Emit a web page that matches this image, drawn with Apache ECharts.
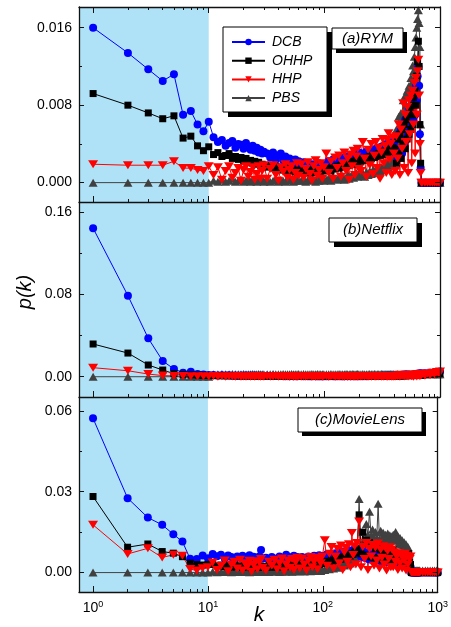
<!DOCTYPE html>
<html>
<head>
<meta charset="utf-8">
<script src="https://cdn.jsdelivr.net/npm/echarts@6/dist/echarts.min.js"></script>
<style>
  html, body { margin: 0; padding: 0; background: #fff; }
  #chart { width: 451px; height: 627px; }
</style>
</head>
<body>
<div id="chart"></div>
<script>
// degree k, shared by the three panels
var K = [1, 2, 3, 4, 5, 6, 7, 8, 9, 10,
  11, 12, 13, 14, 15, 16, 17, 18, 19, 20, 21, 22, 23, 24, 25, 26, 27, 28, 29, 30,
  32, 34, 36, 38, 40, 42, 44, 46, 48, 50, 52, 54, 56, 58, 60,
  63, 66, 69, 72, 75, 78, 81, 84, 87, 90, 93, 96, 99,
  104, 109, 114, 119, 124, 129, 134, 139, 144, 149, 154, 159, 164, 169, 174, 179, 184, 189, 194, 199,
  207, 215, 223, 231, 239, 247, 255, 263, 271, 279, 287, 295, 303, 311, 319, 327, 335, 343, 351, 359, 367, 375, 383, 391, 399,
  410, 420, 430, 440, 450, 460, 470, 480, 490, 500, 510, 520, 530, 540, 550, 560, 570, 580, 590, 600,
  610, 620, 630, 640, 650, 660, 670, 680, 690, 700,
  740, 780, 820, 860, 900, 940, 980, 1000];

// (a) RYM
var dcbA = [0.0160, 0.0134, 0.0117, 0.0105, 0.0112, 0.0070, 0.0074, 0.0060, 0.0053, 0.0063,
  0.0047, 0.0042, 0.0044, 0.0038, 0.0041, 0.0043, 0.0036, 0.0040, 0.0039, 0.0035, 0.0041, 0.0037, 0.0034, 0.0038, 0.0033, 0.0036, 0.0031, 0.0034, 0.0030, 0.0032,
  0.0030, 0.0026, 0.0031, 0.0024, 0.0028, 0.0030, 0.0023, 0.0027, 0.0021, 0.0025, 0.0022, 0.0020, 0.0024, 0.0019, 0.0022,
  0.0018, 0.0021, 0.0017, 0.0020, 0.0016, 0.0019, 0.0015, 0.0018, 0.0016, 0.0020, 0.0017, 0.0019, 0.0018,
  0.0019, 0.0022, 0.0018, 0.0024, 0.0020, 0.0023, 0.0021, 0.0025, 0.0022, 0.0026, 0.0021, 0.0027, 0.0023, 0.0028, 0.0024, 0.0029, 0.0025, 0.0030, 0.0026, 0.0031,
  0.0027, 0.0030, 0.0028, 0.0032, 0.0029, 0.0033, 0.0030, 0.0034, 0.0031, 0.0035, 0.0032, 0.0036, 0.0033, 0.0037, 0.0034, 0.0038, 0.0035, 0.0040, 0.0036, 0.0041, 0.0037, 0.0042, 0.0038, 0.0043, 0.0040,
  0.0030, 0.0045, 0.0025, 0.0050, 0.0035, 0.0055, 0.0030, 0.0060, 0.0040, 0.0065, 0.0045, 0.0070, 0.0050, 0.0075, 0.0055, 0.0080, 0.0060, 0.0085, 0.0065, 0.0092,
  0.0070, 0.0100, 0.0085, 0.0110, 0.0120, 0.0100, 0.0050, 0.0015, 0, 0,
  0, 0, 0, 0, 0, 0, 0, 0];
var ohhpA = [0.0092, 0.0080, 0.0072, 0.0066, 0.0069, 0.0046, 0.0048, 0.0038, 0.0033, 0.0037,
  0.0029, 0.0031, 0.0027, 0.0028, 0.0030, 0.0025, 0.0027, 0.0024, 0.0026, 0.0023, 0.0025, 0.0021, 0.0023, 0.0020, 0.0022, 0.0019, 0.0021, 0.0018, 0.0019, 0.0017,
  0.0016, 0.0018, 0.0015, 0.0017, 0.0014, 0.0016, 0.0013, 0.0015, 0.0012, 0.0014, 0.0012, 0.0013, 0.0011, 0.0013, 0.0012,
  0.0011, 0.0013, 0.0010, 0.0012, 0.0011, 0.0013, 0.0010, 0.0012, 0.0011, 0.0013, 0.0012, 0.0014, 0.0012,
  0.0013, 0.0015, 0.0012, 0.0016, 0.0014, 0.0017, 0.0015, 0.0018, 0.0016, 0.0019, 0.0017, 0.0020, 0.0018, 0.0021, 0.0019, 0.0022, 0.0020, 0.0023, 0.0021, 0.0024,
  0.0022, 0.0025, 0.0023, 0.0026, 0.0024, 0.0027, 0.0025, 0.0028, 0.0026, 0.0029, 0.0027, 0.0030, 0.0028, 0.0031, 0.0029, 0.0032, 0.0030, 0.0033, 0.0031, 0.0034, 0.0032, 0.0035, 0.0033, 0.0036, 0.0034,
  0.0035, 0.0020, 0.0045, 0.0030, 0.0050, 0.0025, 0.0055, 0.0040, 0.0060, 0.0035, 0.0065, 0.0045, 0.0070, 0.0050, 0.0075, 0.0055, 0.0080, 0.0060, 0.0088, 0.0070,
  0.0095, 0.0080, 0.0110, 0.0125, 0.0146, 0.0120, 0.0060, 0.0020, 0, 0,
  0, 0, 0, 0, 0, 0, 0, 0];
var hhpA = [0.0019, 0.0018, 0.0018, 0.0018, 0.0022, 0.0015, 0.0015, 0.0013, 0.0012, 0.0017,
  0.0008, 0.0016, 0.0003, 0.0012, 0.0017, 0.0005, 0.0010, 0.0015, 0.0002, 0.0013, 0.0017, 0.0006, 0.0011, 0.0016, 0.0003, 0.0009, 0.0017, 0.0004, 0.0012, 0.0018,
  0.0004, 0.0014, 0.0018, 0.0008, 0.0002, 0.0016, 0.0011, 0.0019, 0.0005, 0.0013, 0.0017, 0.0003, 0.0010, 0.0020, 0.0007,
  0.0019, 0.0005, 0.0014, 0.0021, 0.0009, 0.0002, 0.0017, 0.0023, 0.0007, 0.0013, 0.0020, 0.0004, 0.0016,
  0.0030, 0.0010, 0.0022, 0.0004, 0.0026, 0.0015, 0.0028, 0.0006, 0.0020, 0.0031, 0.0012, 0.0025, 0.0003, 0.0029, 0.0017, 0.0033, 0.0008, 0.0027, 0.0035, 0.0014,
  0.0012, 0.0042, 0.0025, 0.0006, 0.0034, 0.0018, 0.0040, 0.0009, 0.0028, 0.0042, 0.0015, 0.0036, 0.0004, 0.0031, 0.0045, 0.0020, 0.0038, 0.0010, 0.0044, 0.0051, 0.0024, 0.0040, 0.0008, 0.0047, 0.0030,
  0.0012, 0.0048, 0.0025, 0.0060, 0.0008, 0.0055, 0.0035, 0.0082, 0.0015, 0.0070, 0.0042, 0.0078, 0.0010, 0.0085, 0.0050, 0.0090, 0.0020, 0.0095, 0.0060, 0.0103,
  0.0030, 0.0108, 0.0070, 0.0115, 0.0127, 0.0090, 0.0040, 0.0010, 0, 0,
  0, 0, 0, 0, 0, 0, 0, 0];
var pbsA = [0, 0, 0, 0, 0, 0, 0, 0, 0, 0,
  0.0002, 0.0001, 0.0003, 0.0001, 0.0002, 0.0004, 0.0001, 0.0002, 0.0003, 0.0001, 0.0002, 0.0004, 0.0001, 0.0003, 0.0002, 0.0001, 0.0003, 0.0002, 0.0004, 0.0001,
  0.0003, 0.0001, 0.0002, 0.0004, 0.0001, 0.0003, 0.0002, 0.0001, 0.0004, 0.0002, 0.0003, 0.0001, 0.0002, 0.0004, 0.0002,
  0.0002, 0.0004, 0.0001, 0.0003, 0.0005, 0.0002, 0.0003, 0.0001, 0.0004, 0.0002, 0.0005, 0.0003, 0.0002,
  0.0003, 0.0005, 0.0002, 0.0006, 0.0004, 0.0003, 0.0006, 0.0004, 0.0007, 0.0003, 0.0005, 0.0008, 0.0004, 0.0006, 0.0009, 0.0005, 0.0007, 0.0010, 0.0006, 0.0008,
  0.0007, 0.0010, 0.0006, 0.0011, 0.0008, 0.0012, 0.0009, 0.0013, 0.0010, 0.0014, 0.0011, 0.0015, 0.0012, 0.0016, 0.0013, 0.0017, 0.0015, 0.0019, 0.0016, 0.0021, 0.0018, 0.0023, 0.0020, 0.0026, 0.0024,
  0.0030, 0.0055, 0.0040, 0.0068, 0.0050, 0.0072, 0.0060, 0.0085, 0.0070, 0.0090, 0.0080, 0.0095, 0.0088, 0.0100, 0.0095, 0.0108, 0.0100, 0.0121, 0.0115, 0.0130,
  0.0140, 0.0150, 0.0160, 0.0169, 0.0178, 0.0165, 0.0140, 0.0060, 0, 0,
  0, 0, 0, 0, 0, 0, 0, 0];

// (b) Netflix
var dcbB = [0.1443, 0.0788, 0.0373, 0.0153, 0.0075, 0.0039, 0.0049, 0.0026, 0.0021, 0.0016,
  0.0016, 0.0012, 0.0015, 0.0011, 0.0014, 0.0010, 0.0013, 0.0010, 0.0012, 0.0009, 0.0012, 0.0009, 0.0011, 0.0008, 0.0011, 0.0008, 0.0010, 0.0008, 0.0010, 0.0007,
  0.0009, 0.0007, 0.0009, 0.0006, 0.0008, 0.0006, 0.0008, 0.0005, 0.0007, 0.0005, 0.0007, 0.0005, 0.0006, 0.0005, 0.0006,
  0.0006, 0.0005, 0.0006, 0.0004, 0.0005, 0.0004, 0.0006, 0.0004, 0.0005, 0.0004, 0.0005, 0.0004, 0.0005,
  0.0005, 0.0004, 0.0006, 0.0004, 0.0005, 0.0004, 0.0006, 0.0005, 0.0005, 0.0004, 0.0006, 0.0005, 0.0006, 0.0004, 0.0006, 0.0005, 0.0007, 0.0005, 0.0006, 0.0005,
  0.0006, 0.0005, 0.0007, 0.0005, 0.0007, 0.0006, 0.0007, 0.0006, 0.0008, 0.0006, 0.0008, 0.0006, 0.0008, 0.0007, 0.0009, 0.0007, 0.0009, 0.0007, 0.0009, 0.0008, 0.0010, 0.0008, 0.0010, 0.0008, 0.0010,
  0.0009, 0.0012, 0.0010, 0.0015, 0.0012, 0.0018, 0.0014, 0.0020, 0.0016, 0.0022, 0.0018, 0.0021, 0.0017, 0.0019, 0.0016, 0.0018, 0.0015, 0.0020, 0.0017, 0.0022,
  0.0019, 0.0025, 0.0021, 0.0028, 0.0024, 0.0032, 0.0030, 0.0035, 0.0028, 0.0030,
  0.0034, 0.0030, 0.0038, 0.0035, 0.0042, 0.0040, 0.0046, 0.0050];
var ohhpB = [0.0318, 0.0230, 0.0114, 0.0065, 0.0030, 0.0022, 0.0019, 0.0016, 0.0014, 0.0012,
  0.0011, 0.0010, 0.0010, 0.0009, 0.0009, 0.0009, 0.0008, 0.0008, 0.0008, 0.0007, 0.0007, 0.0007, 0.0007, 0.0006, 0.0006, 0.0006, 0.0006, 0.0006, 0.0005, 0.0005,
  0.0005, 0.0005, 0.0005, 0.0004, 0.0004, 0.0004, 0.0004, 0.0004, 0.0004, 0.0004, 0.0003, 0.0003, 0.0003, 0.0003, 0.0003,
  0.0003, 0.0003, 0.0003, 0.0003, 0.0003, 0.0003, 0.0003, 0.0003, 0.0003, 0.0003, 0.0003, 0.0003, 0.0003,
  0.0003, 0.0003, 0.0003, 0.0003, 0.0003, 0.0003, 0.0003, 0.0003, 0.0003, 0.0003, 0.0003, 0.0003, 0.0003, 0.0003, 0.0003, 0.0003, 0.0003, 0.0003, 0.0003, 0.0003,
  0.0003, 0.0003, 0.0003, 0.0003, 0.0003, 0.0004, 0.0003, 0.0004, 0.0004, 0.0004, 0.0004, 0.0004, 0.0004, 0.0004, 0.0004, 0.0005, 0.0004, 0.0005, 0.0005, 0.0005, 0.0005, 0.0005, 0.0005, 0.0005, 0.0005,
  0.0005, 0.0006, 0.0006, 0.0008, 0.0007, 0.0009, 0.0008, 0.0010, 0.0009, 0.0011, 0.0010, 0.0012, 0.0011, 0.0012, 0.0011, 0.0012, 0.0011, 0.0013, 0.0012, 0.0014,
  0.0013, 0.0015, 0.0014, 0.0016, 0.0015, 0.0017, 0.0016, 0.0018, 0.0017, 0.0018,
  0.0020, 0.0022, 0.0024, 0.0026, 0.0028, 0.0030, 0.0031, 0.0032];
var hhpB = [0.0088, 0.0058, 0.0026, 0.0011, 0.0008, 0.0006, 0.0005, 0.0004, 0.0004, 0.0003,
  0.0006, 0.0001, 0.0004, 0.0000, 0.0005, 0.0002, 0.0000, 0.0006, 0.0001, 0.0003, 0.0000, 0.0005, 0.0001, 0.0004, 0.0000, 0.0006, 0.0002, 0.0000, 0.0004, 0.0001,
  0.0005, 0.0000, 0.0003, 0.0006, 0.0001, 0.0004, 0.0000, 0.0005, 0.0002, 0.0000, 0.0006, 0.0001, 0.0003, 0.0000, 0.0005,
  0.0001, 0.0005, 0.0000, 0.0004, 0.0006, 0.0001, 0.0003, 0.0000, 0.0005, 0.0002, 0.0006, 0.0000, 0.0004,
  0.0005, 0.0000, 0.0003, 0.0006, 0.0001, 0.0004, 0.0000, 0.0005, 0.0002, 0.0000, 0.0006, 0.0001, 0.0004, 0.0000, 0.0005, 0.0003, 0.0000, 0.0006, 0.0001, 0.0004,
  0.0000, 0.0005, 0.0002, 0.0006, 0.0000, 0.0004, 0.0001, 0.0006, 0.0003, 0.0000, 0.0005, 0.0002, 0.0007, 0.0000, 0.0004, 0.0001, 0.0006, 0.0003, 0.0000, 0.0005, 0.0002, 0.0007, 0.0001, 0.0004, 0.0000,
  0.0002, 0.0010, 0.0004, 0.0014, 0.0001, 0.0016, 0.0006, 0.0018, 0.0003, 0.0020, 0.0008, 0.0017, 0.0002, 0.0019, 0.0010, 0.0016, 0.0004, 0.0018, 0.0001, 0.0020,
  0.0009, 0.0022, 0.0003, 0.0024, 0.0012, 0.0026, 0.0005, 0.0028, 0.0015, 0.0027,
  0.0010, 0.0032, 0.0015, 0.0038, 0.0020, 0.0045, 0.0025, 0.0052];
var pbsB = [0, 0, 0, 0, 0, 0, 0, 0, 0, 0,
  0.0024, 0.0025, 0.0026, 0.0024, 0.0025, 0.0026, 0.0025, 0.0024, 0.0025, 0.0026, 0.0024, 0.0025, 0.0025, 0.0026, 0.0024, 0.0025, 0.0026, 0.0025, 0.0024, 0.0025,
  0.0025, 0.0024, 0.0026, 0.0025, 0.0025, 0.0024, 0.0026, 0.0025, 0.0024, 0.0025, 0.0026, 0.0025, 0.0024, 0.0025, 0.0026,
  0.0025, 0.0026, 0.0024, 0.0025, 0.0025, 0.0026, 0.0024, 0.0025, 0.0026, 0.0025, 0.0024, 0.0025, 0.0025,
  0.0025, 0.0024, 0.0026, 0.0025, 0.0025, 0.0024, 0.0026, 0.0025, 0.0024, 0.0025, 0.0026, 0.0025, 0.0024, 0.0025, 0.0026, 0.0025, 0.0025, 0.0024, 0.0026, 0.0025,
  0.0025, 0.0026, 0.0024, 0.0025, 0.0025, 0.0026, 0.0024, 0.0025, 0.0026, 0.0025, 0.0024, 0.0025, 0.0025, 0.0026, 0.0024, 0.0025, 0.0026, 0.0025, 0.0024, 0.0025, 0.0025, 0.0026, 0.0024, 0.0025, 0.0026,
  0.0025, 0.0024, 0.0026, 0.0025, 0.0025, 0.0024, 0.0026, 0.0025, 0.0024, 0.0025, 0.0026, 0.0025, 0.0024, 0.0025, 0.0026, 0.0025, 0.0025, 0.0024, 0.0026, 0.0025,
  0.0025, 0.0024, 0.0026, 0.0025, 0.0024, 0.0025, 0.0026, 0.0025, 0.0024, 0.0025,
  0.0025, 0.0026, 0.0024, 0.0025, 0.0026, 0.0025, 0.0024, 0.0025];

// (c) MovieLens
var dcbC = [0.0572, 0.0276, 0.0204, 0.0177, 0.0142, 0.0115, 0.0051, 0.0050, 0.0063, 0.0053,
  0.0069, 0.0061, 0.0066, 0.0052, 0.0063, 0.0058, 0.0048, 0.0060, 0.0055, 0.0062, 0.0050, 0.0057, 0.0064, 0.0053, 0.0059, 0.0047, 0.0055, 0.0060, 0.0084, 0.0052,
  0.0055, 0.0048, 0.0058, 0.0045, 0.0052, 0.0060, 0.0046, 0.0054, 0.0066, 0.0050, 0.0057, 0.0048, 0.0062, 0.0052, 0.0058,
  0.0050, 0.0058, 0.0046, 0.0055, 0.0060, 0.0048, 0.0056, 0.0062, 0.0050, 0.0058, 0.0064, 0.0052, 0.0060,
  0.0062, 0.0068, 0.0058, 0.0070, 0.0064, 0.0072, 0.0060, 0.0075, 0.0066, 0.0078, 0.0068, 0.0076, 0.0070, 0.0080, 0.0072, 0.0082, 0.0074, 0.0085, 0.0076, 0.0080,
  0.0085, 0.0060, 0.0078, 0.0055, 0.0072, 0.0050, 0.0068, 0.0048, 0.0065, 0.0046, 0.0062, 0.0045, 0.0060, 0.0044, 0.0058, 0.0042, 0.0056, 0.0040, 0.0055, 0.0040, 0.0052, 0.0038, 0.0050, 0.0036, 0.0048,
  0.0046, 0.0035, 0.0044, 0.0032, 0.0042, 0.0030, 0.0040, 0.0028, 0.0045, 0.0026, 0.0040, 0.0025, 0.0038, 0.0024, 0.0050, 0.0035, 0.0030, 0.0022, 0, 0,
  0, 0, 0, 0, 0, 0, 0, 0, 0, 0,
  0, 0, 0, 0, 0, 0, 0, 0];
var ohhpC = [0.0282, 0.0094, 0.0106, 0.0078, 0.0072, 0.0059, 0.0035, 0.0030, 0.0028, 0.0030,
  0.0030, 0.0025, 0.0028, 0.0022, 0.0026, 0.0020, 0.0027, 0.0023, 0.0025, 0.0019, 0.0026, 0.0021, 0.0024, 0.0018, 0.0025, 0.0020, 0.0023, 0.0019, 0.0024, 0.0020,
  0.0022, 0.0026, 0.0020, 0.0025, 0.0023, 0.0028, 0.0021, 0.0026, 0.0024, 0.0029, 0.0022, 0.0027, 0.0025, 0.0030, 0.0026,
  0.0028, 0.0032, 0.0026, 0.0031, 0.0029, 0.0034, 0.0028, 0.0033, 0.0030, 0.0036, 0.0031, 0.0035, 0.0033,
  0.0038, 0.0042, 0.0040, 0.0046, 0.0043, 0.0050, 0.0046, 0.0054, 0.0050, 0.0058, 0.0054, 0.0062, 0.0058, 0.0066, 0.0062, 0.0070, 0.0068, 0.0075, 0.0080, 0.0090,
  0.0214, 0.0070, 0.0150, 0.0065, 0.0120, 0.0060, 0.0110, 0.0058, 0.0100, 0.0055, 0.0090, 0.0052, 0.0105, 0.0050, 0.0085, 0.0048, 0.0080, 0.0046, 0.0078, 0.0045, 0.0075, 0.0044, 0.0072, 0.0042, 0.0070,
  0.0084, 0.0050, 0.0066, 0.0045, 0.0060, 0.0042, 0.0058, 0.0040, 0.0055, 0.0038, 0.0066, 0.0036, 0.0052, 0.0034, 0.0048, 0.0070, 0.0040, 0.0030, 0, 0,
  0, 0, 0, 0, 0, 0, 0, 0, 0, 0,
  0, 0, 0, 0, 0, 0, 0, 0];
var hhpC = [0.0177, 0.0069, 0.0090, 0.0056, 0.0066, 0.0062, 0.0013, 0.0008, 0.0016, 0.0020,
  0.0037, 0.0010, 0.0025, 0.0045, 0.0005, 0.0030, 0.0040, 0.0015, 0.0048, 0.0008, 0.0035, 0.0022, 0.0044, 0.0003, 0.0028, 0.0042, 0.0012, 0.0038, 0.0050, 0.0018,
  0.0008, 0.0040, 0.0025, 0.0048, 0.0012, 0.0035, 0.0052, 0.0005, 0.0030, 0.0045, 0.0018, 0.0050, 0.0010, 0.0038, 0.0055,
  0.0015, 0.0052, 0.0030, 0.0008, 0.0045, 0.0058, 0.0020, 0.0040, 0.0055, 0.0012, 0.0048, 0.0035, 0.0060,
  0.0120, 0.0025, 0.0070, 0.0095, 0.0015, 0.0060, 0.0088, 0.0035, 0.0100, 0.0010, 0.0075, 0.0092, 0.0040, 0.0105, 0.0020, 0.0147, 0.0065, 0.0098, 0.0030, 0.0110,
  0.0189, 0.0020, 0.0095, 0.0050, 0.0110, 0.0010, 0.0088, 0.0060, 0.0102, 0.0025, 0.0092, 0.0045, 0.0108, 0.0015, 0.0085, 0.0055, 0.0098, 0.0030, 0.0090, 0.0008, 0.0080, 0.0050, 0.0094, 0.0020, 0.0086,
  0.0020, 0.0075, 0.0040, 0.0060, 0.0010, 0.0072, 0.0035, 0.0065, 0.0015, 0.0058, 0.0045, 0.0070, 0.0008, 0.0062, 0.0030, 0.0055, 0.0050, 0.0060, 0, 0,
  0, 0, 0, 0, 0, 0, 0, 0, 0, 0,
  0, 0, 0, 0, 0, 0, 0, 0];
var pbsC = [0, 0, 0, 0, 0, 0, 0, 0, 0, 0,
  0.0003, 0.0001, 0.0004, 0.0002, 0.0003, 0.0001, 0.0004, 0.0002, 0.0003, 0.0005, 0.0002, 0.0004, 0.0001, 0.0003, 0.0005, 0.0002, 0.0004, 0.0003, 0.0005, 0.0002,
  0.0004, 0.0002, 0.0005, 0.0003, 0.0006, 0.0002, 0.0004, 0.0006, 0.0003, 0.0005, 0.0007, 0.0003, 0.0006, 0.0004, 0.0007,
  0.0005, 0.0008, 0.0004, 0.0007, 0.0009, 0.0005, 0.0008, 0.0006, 0.0010, 0.0007, 0.0009, 0.0006, 0.0011,
  0.0010, 0.0014, 0.0012, 0.0018, 0.0015, 0.0022, 0.0018, 0.0026, 0.0022, 0.0030, 0.0026, 0.0034, 0.0030, 0.0038, 0.0034, 0.0042, 0.0040, 0.0048, 0.0055, 0.0070,
  0.0273, 0.0080, 0.0150, 0.0120, 0.0180, 0.0140, 0.0226, 0.0135, 0.0160, 0.0125, 0.0150, 0.0130, 0.0255, 0.0120, 0.0155, 0.0128, 0.0148, 0.0122, 0.0140, 0.0118, 0.0145, 0.0125, 0.0138, 0.0120, 0.0135,
  0.0140, 0.0125, 0.0150, 0.0118, 0.0135, 0.0110, 0.0128, 0.0105, 0.0120, 0.0100, 0.0112, 0.0096, 0.0105, 0.0090, 0.0096, 0.0070, 0.0050, 0.0030, 0.0008, 0.0008,
  0.0008, 0.0008, 0.0008, 0.0008, 0.0008, 0.0008, 0.0008, 0.0008, 0.0008, 0.0008,
  0.0008, 0.0008, 0.0008, 0.0008, 0.0008, 0.0008, 0.0008, 0.0008];

// ticks
var xMajor = [1, 10, 100, 1000];
var xExp = ['0', '1', '2', '3'];
var xMinor = [2, 3, 4, 5, 6, 7, 8, 9, 20, 30, 40, 50, 60, 70, 80, 90,
  200, 300, 400, 500, 600, 700, 800, 900];
var yMajorA = [0, 0.008, 0.016], yMinorA = [0.004, 0.012], yLabelA = ['0.000', '0.008', '0.016'];
var yMajorB = [0, 0.08, 0.16], yMinorB = [0.04, 0.12], yLabelB = ['0.00', '0.08', '0.16'];
var yMajorC = [0, 0.03, 0.06], yMinorC = [0.015, 0.045], yLabelC = ['0.00', '0.03', '0.06'];

var FONT = '"Liberation Sans", Arial, sans-serif';
var X_MIN = 0.755, X_MAX = 1000;
var SHADE = '#afe2f6';
var AXIS_COLOR = '#111';

var panels = [
  { title: '(a)RYM', min: -0.0020, max: 0.01814, major: yMajorA, minor: yMinorA, labels: yLabelA,
    dcb: dcbA, ohhp: ohhpA, hhp: hhpA, pbs: pbsA, top: 7 },
  { title: '(b)Netflix', min: -0.0197, max: 0.1698, major: yMajorB, minor: yMinorB, labels: yLabelB,
    dcb: dcbB, ohhp: ohhpB, hhp: hhpB, pbs: pbsB, top: 202 },
  { title: '(c)MovieLens', min: -0.0072, max: 0.0651, major: yMajorC, minor: yMinorC, labels: yLabelC,
    dcb: dcbC, ohhp: ohhpC, hhp: hhpC, pbs: pbsC, top: 397 }
];

var styles = {
  DCB: { color: '#0000ff', symbol: 'circle', size: 8 },
  OHHP: { color: '#000000', symbol: 'rect', size: 7 },
  HHP: { color: '#ff0000', symbol: 'path://M0,0 L10,0 L5,8 Z', size: [10, 8] },
  PBS: { color: '#404040', symbol: 'triangle', size: [9, 8] }
};

function pairs(vals) {
  return K.map(function (k, j) { return [k, vals[j]]; });
}

function makeX(gi, pos, ticks, len, withLine, withLabels) {
  return {
    type: 'log', logBase: 10, gridIndex: gi, min: X_MIN, max: X_MAX, position: pos, z: 10,
    axisLine: { show: withLine, onZero: false, lineStyle: { color: AXIS_COLOR, width: 1.3 } },
    axisTick: { show: true, inside: true, length: len, customValues: ticks,
      lineStyle: { color: AXIS_COLOR, width: 1 } },
    axisLabel: withLabels ? {
      show: true, customValues: xMajor, margin: 8,
      formatter: function (v) {
        var e = Math.round(Math.log(v) / Math.LN10);
        return '{b|10}{s|' + xExp[e] + '}';
      },
      rich: {
        b: { fontSize: 14, fontFamily: FONT, color: '#000' },
        s: { fontSize: 9, fontFamily: FONT, color: '#000', padding: [0, 0, 8, 0] }
      }
    } : { show: false },
    splitLine: { show: false }, minorTick: { show: false }, minorSplitLine: { show: false }
  };
}

function makeY(gi, p, pos, ticks, len, withLine, withLabels) {
  return {
    type: 'value', gridIndex: gi, min: p.min, max: p.max, position: pos, z: 10,
    axisLine: { show: withLine, onZero: false, lineStyle: { color: AXIS_COLOR, width: 1.3 } },
    axisTick: { show: true, inside: true, length: len, customValues: ticks,
      lineStyle: { color: AXIS_COLOR, width: 1 } },
    axisLabel: withLabels ? {
      show: true, customValues: p.major, margin: 7, fontSize: 14, fontFamily: FONT, color: '#000',
      formatter: function (v) {
        var best = 0;
        p.major.forEach(function (m, i) {
          if (Math.abs(m - v) < Math.abs(p.major[best] - v)) best = i;
        });
        return p.labels[best];
      }
    } : { show: false },
    splitLine: { show: false }
  };
}

var grids = [], xAxes = [], yAxes = [], series = [];

panels.forEach(function (p, i) {
  grids.push({ left: 79, width: 361, top: p.top, height: 195, containLabel: false });
  var xi = xAxes.length;
  xAxes.push(makeX(i, 'bottom', xMajor, 6, true, i === 2));
  xAxes.push(makeX(i, 'bottom', xMinor, 3, false, false));
  if (i === 0) {
    xAxes.push(makeX(i, 'top', xMajor, 6, true, false));
    xAxes.push(makeX(i, 'top', xMinor, 3, false, false));
  }
  var yi = yAxes.length;
  yAxes.push(makeY(i, p, 'left', p.major, 5, true, true));
  yAxes.push(makeY(i, p, 'left', p.minor, 3, false, false));
  yAxes.push(makeY(i, p, 'right', p.major, 5, true, false));
  yAxes.push(makeY(i, p, 'right', p.minor, 3, false, false));

  // shaded low-degree band, k < 10
  series.push({
    type: 'line', xAxisIndex: xi, yAxisIndex: yi, data: [], silent: true,
    markArea: { silent: true, itemStyle: { color: SHADE }, data: [[{ xAxis: X_MIN }, { xAxis: 10 }]] }
  });

  [['PBS', p.pbs], ['DCB', p.dcb], ['OHHP', p.ohhp], ['HHP', p.hhp]].forEach(function (s) {
    var st = styles[s[0]];
    series.push({
      name: s[0], type: 'line', xAxisIndex: xi, yAxisIndex: yi,
      data: pairs(s[1]),
      symbol: st.symbol, symbolSize: st.size, showAllSymbol: true,
      itemStyle: { color: st.color },
      lineStyle: { color: st.color, width: 1 },
      emphasis: { disabled: true }
    });
  });
});

function boxText(x, y, w, h, off, text) {
  return [
    { type: 'rect', z: 12, shape: { x: x + off, y: y + off, width: w, height: h }, style: { fill: '#000' } },
    { type: 'rect', z: 13, shape: { x: x, y: y, width: w, height: h }, style: { fill: '#fff', stroke: '#000', lineWidth: 1 } },
    { type: 'text', z: 14, x: x + w / 2, y: y + h / 2,
      style: { text: text, font: 'italic 15px ' + FONT, fill: '#000',
        align: 'center', verticalAlign: 'middle', textAlign: 'center', textVerticalAlign: 'middle' } }
  ];
}

var graphics = []
  .concat(boxText(223, 27, 104, 85, 5, ''))
  .concat(boxText(332, 28, 71, 21, 4, panels[0].title))
  .concat(boxText(329, 218, 88, 24, 5, panels[1].title))
  .concat(boxText(298, 408, 124, 24, 4, panels[2].title))
  .concat([
    { type: 'text', z: 14, x: 25, y: 292, rotation: Math.PI / 2,
      style: { text: 'p(k)', font: 'italic 20px ' + FONT, fill: '#000',
        align: 'center', verticalAlign: 'middle', textAlign: 'center', textVerticalAlign: 'middle' } },
    { type: 'text', z: 14, x: 259, y: 615,
      style: { text: 'k', font: 'italic 21px ' + FONT, fill: '#000',
        align: 'center', verticalAlign: 'middle', textAlign: 'center', textVerticalAlign: 'middle' } }
  ]);

var chart = echarts.init(document.getElementById('chart'), null, { renderer: 'canvas' });
chart.setOption({
  animation: false,
  backgroundColor: '#fff',
  grid: grids,
  xAxis: xAxes,
  yAxis: yAxes,
  legend: {
    data: ['DCB', 'OHHP', 'HHP', 'PBS'],
    orient: 'vertical', left: 231, top: 35, padding: 0,
    itemWidth: 33, itemHeight: 8, itemGap: 4.7,
    selectedMode: false, z: 20,
    textStyle: { fontFamily: FONT, fontStyle: 'italic', fontSize: 14, lineHeight: 14, color: '#000', padding: [0, 0, 0, 2] }
  },
  graphic: graphics,
  series: series
});
</script>
</body>
</html>
